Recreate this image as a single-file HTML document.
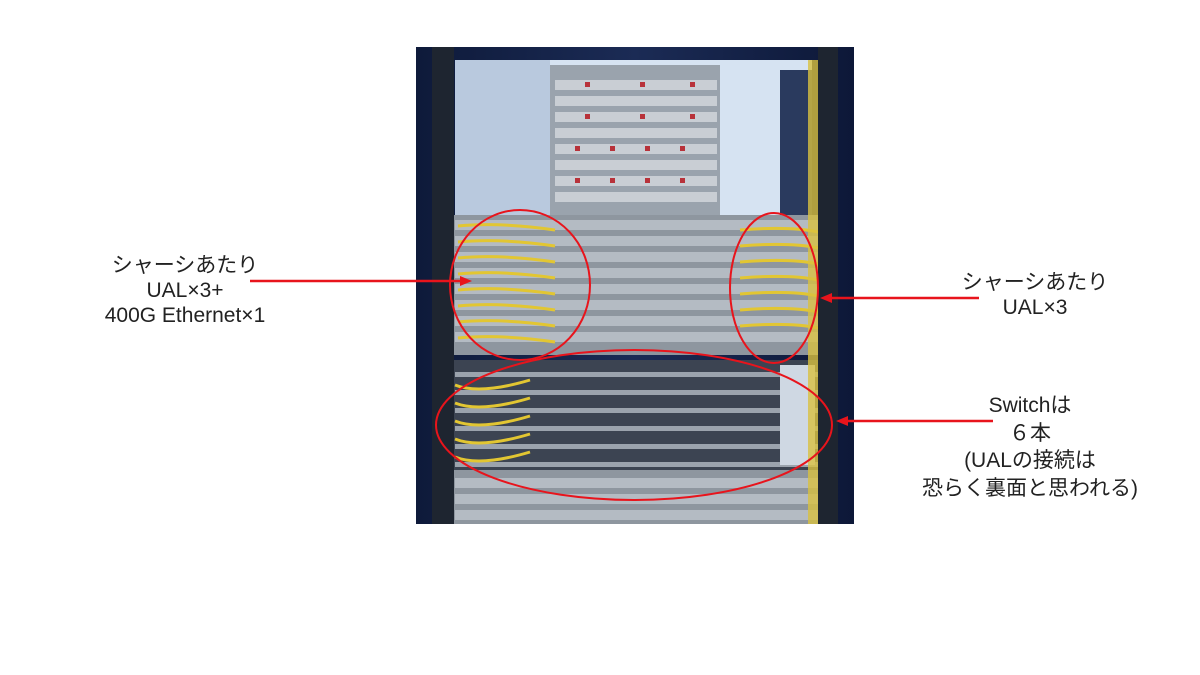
<!DOCTYPE html>
<html><head><meta charset="utf-8"><style>
html,body{margin:0;padding:0;background:#fff;}
.wrap{position:relative;width:1200px;height:675px;overflow:hidden;font-family:"Liberation Sans","Noto Sans CJK JP",sans-serif;color:#222;}
.t{position:absolute;text-align:center;font-size:21px;line-height:25px;}
svg{position:absolute;left:0;top:0;}
</style></head><body><div class="wrap">
<svg width="1200" height="675" viewBox="0 0 1200 675">
<defs>
<linearGradient id="bg" x1="0" x2="1"><stop offset="0" stop-color="#0e1a3a"/><stop offset="0.5" stop-color="#1b2b55"/><stop offset="1" stop-color="#0d1838"/></linearGradient>
</defs>
<rect x="416" y="47" width="438" height="477" fill="url(#bg)"/>
<rect x="455" y="60" width="357" height="155" fill="#d6e3f2"/>
<rect x="455" y="60" width="95" height="155" fill="#b9c9de"/>
<rect x="550" y="65" width="170" height="150" fill="#9aa3ad"/>
<g fill="#c9ced4">
<rect x="555" y="80" width="162" height="10"/><rect x="555" y="96" width="162" height="10"/><rect x="555" y="112" width="162" height="10"/>
<rect x="555" y="128" width="162" height="10"/><rect x="555" y="144" width="162" height="10"/><rect x="555" y="160" width="162" height="10"/>
<rect x="555" y="176" width="162" height="10"/><rect x="555" y="192" width="162" height="10"/>
</g>
<g fill="#b8323a">
<rect x="585" y="82" width="5" height="5"/><rect x="640" y="82" width="5" height="5"/><rect x="690" y="82" width="5" height="5"/>
<rect x="585" y="114" width="5" height="5"/><rect x="640" y="114" width="5" height="5"/><rect x="690" y="114" width="5" height="5"/>
<rect x="575" y="146" width="5" height="5"/><rect x="610" y="146" width="5" height="5"/><rect x="645" y="146" width="5" height="5"/><rect x="680" y="146" width="5" height="5"/>
<rect x="575" y="178" width="5" height="5"/><rect x="610" y="178" width="5" height="5"/><rect x="645" y="178" width="5" height="5"/><rect x="680" y="178" width="5" height="5"/>
</g>
<rect x="780" y="70" width="32" height="145" fill="#2a3a5e"/>
<rect x="452" y="215" width="370" height="140" fill="#8e969f"/>
<g fill="#b4bbc3">
<rect x="455" y="220" width="364" height="10"/><rect x="455" y="236" width="364" height="10"/><rect x="455" y="252" width="364" height="10"/>
<rect x="455" y="268" width="364" height="10"/><rect x="455" y="284" width="364" height="10"/><rect x="455" y="300" width="364" height="10"/>
<rect x="455" y="316" width="364" height="10"/><rect x="455" y="332" width="364" height="10"/>
</g>
<g stroke="#e2c632" stroke-width="3" fill="none">
<path d="M458 226 Q500 222 555 230"/><path d="M458 242 Q500 238 555 246"/><path d="M458 258 Q500 254 555 262"/><path d="M458 274 Q500 270 555 278"/>
<path d="M458 290 Q500 286 555 294"/><path d="M458 306 Q500 302 555 310"/><path d="M458 322 Q500 318 555 326"/><path d="M458 338 Q500 334 555 342"/>
<path d="M740 230 Q790 226 818 232"/><path d="M740 246 Q790 242 818 248"/><path d="M740 262 Q790 258 818 264"/><path d="M740 278 Q790 274 818 280"/>
<path d="M740 294 Q790 290 818 296"/><path d="M740 310 Q790 306 818 312"/><path d="M740 326 Q790 322 818 328"/>
</g>
<rect x="452" y="360" width="372" height="110" fill="#3c4452"/>
<g fill="#9ba3ad">
<rect x="455" y="372" width="366" height="5"/><rect x="455" y="390" width="366" height="5"/><rect x="455" y="408" width="366" height="5"/>
<rect x="455" y="426" width="366" height="5"/><rect x="455" y="444" width="366" height="5"/><rect x="455" y="462" width="366" height="5"/>
</g>
<rect x="780" y="365" width="35" height="100" fill="#cfd8e3"/>
<g stroke="#e2c632" stroke-width="3" fill="none">
<path d="M455 385 Q480 395 530 380"/><path d="M455 403 Q480 413 530 398"/><path d="M455 421 Q480 431 530 416"/><path d="M455 439 Q480 449 530 434"/><path d="M455 457 Q480 467 530 452"/>
</g>
<rect x="452" y="470" width="372" height="54" fill="#8e969f"/>
<g fill="#b4bbc3"><rect x="455" y="478" width="364" height="10"/><rect x="455" y="494" width="364" height="10"/><rect x="455" y="510" width="364" height="10"/></g>
<rect x="432" y="47" width="22" height="477" fill="#1e2530"/>
<rect x="818" y="47" width="20" height="477" fill="#1e2530"/>
<rect x="808" y="60" width="10" height="464" fill="#d8c040" opacity="0.8"/>
<g fill="none" stroke="#e8141c" stroke-width="2">
<ellipse cx="520" cy="285" rx="70" ry="75"/>
<ellipse cx="774" cy="288" rx="44" ry="75"/>
<ellipse cx="634" cy="425" rx="198" ry="75"/>
</g>
<g stroke="#e8141c" stroke-width="2.5" fill="#e8141c">
<line x1="250" y1="281" x2="465" y2="281"/><polygon points="472,281 460,276 460,286" stroke="none"/>
<line x1="979" y1="298" x2="828" y2="298"/><polygon points="820,298 832,293 832,303" stroke="none"/>
<line x1="993" y1="421" x2="844" y2="421"/><polygon points="836,421 848,416 848,426" stroke="none"/>
</g>
</svg>
<div class="t" style="left:60px;top:253px;width:250px;">シャーシあたり<br>UAL×3+<br>400G Ethernet×1</div>
<div class="t" style="left:935px;top:270px;width:200px;">シャーシあたり<br>UAL×3</div>
<div class="t" style="left:900px;top:392px;width:260px;line-height:27.5px;">Switchは<br>６本<br>(UALの接続は<br>恐らく裏面と思われる)</div>
</div></body></html>
